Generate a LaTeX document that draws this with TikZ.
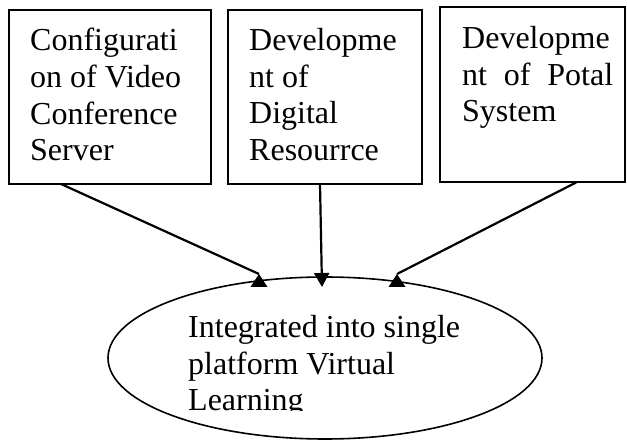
\documentclass[tikz,border=0pt]{standalone}
\usepackage{fontspec}
\setmainfont{Liberation Serif}
\usetikzlibrary{shapes.geometric}
\usetikzlibrary{arrows.meta}
\tikzset{   box/.style = {rectangle, draw = black, line width = 1.5pt, anchor = north west, inner sep = 0pt, outer sep = 0pt},
            boxtext/.style = {anchor = north west, inner sep = 0pt, align = left, font = \fontsize{32}{36.7}\selectfont},
            goal/.style = {ellipse, draw = black, line width = 1.6pt, inner sep = 0pt, outer sep = 0pt},
            link/.style = {line width = 2.2pt},
            uptip/.pic = {\fill (0,0) -- (-8.5,13) -- (8.5,13) -- cycle;}}

\begin{document}
\begin{tikzpicture}[x=1pt,y=-1pt]
    \useasboundingbox (0,0) rectangle (627,443);
    \node[box, minimum width=202pt, minimum height=174pt] (conf) at (9,10) {};
    \node[box, minimum width=194pt, minimum height=174pt] (dig) at (228,10) {};
    \node[box, minimum width=185pt, minimum height=175pt] (por) at (440,7) {};
    \node[goal, minimum width=434pt, minimum height=162pt] (vl) at (325,358) {};

    \node[boxtext] (conftxt) at (30,28) {Configurati\\on of Video\\Conference\\Server};
    \node[boxtext] (digtxt) at (249,28) {Developme\\nt of\\Digital\\Resourrce};
    \node[boxtext] (portxt) at (462,26) {Developme\\\makebox[151pt][s]{nt of Potal}\\System};
    \begin{scope}
        \clip (100,300) rectangle (560,411);
        \node[boxtext] (vltxt) at (188,315) {Integrated into single\\platform Virtual\\Learning};
    \end{scope}

    \coordinate (confend) at (259,274);
    \coordinate (digend) at (322,287);
    \coordinate (porend) at (397,274);
    \draw[link] ([xshift=52pt]conf.south west) -- (confend);
    \pic at (confend) {uptip};
    \draw[link, -{Triangle[width=15pt,length=14pt]}] ([xshift=-5pt]dig.south) -- (digend);
    \draw[link] ([xshift=44.5pt]por.south) -- (porend);
    \pic at (porend) {uptip};
\end{tikzpicture}
\end{document}
